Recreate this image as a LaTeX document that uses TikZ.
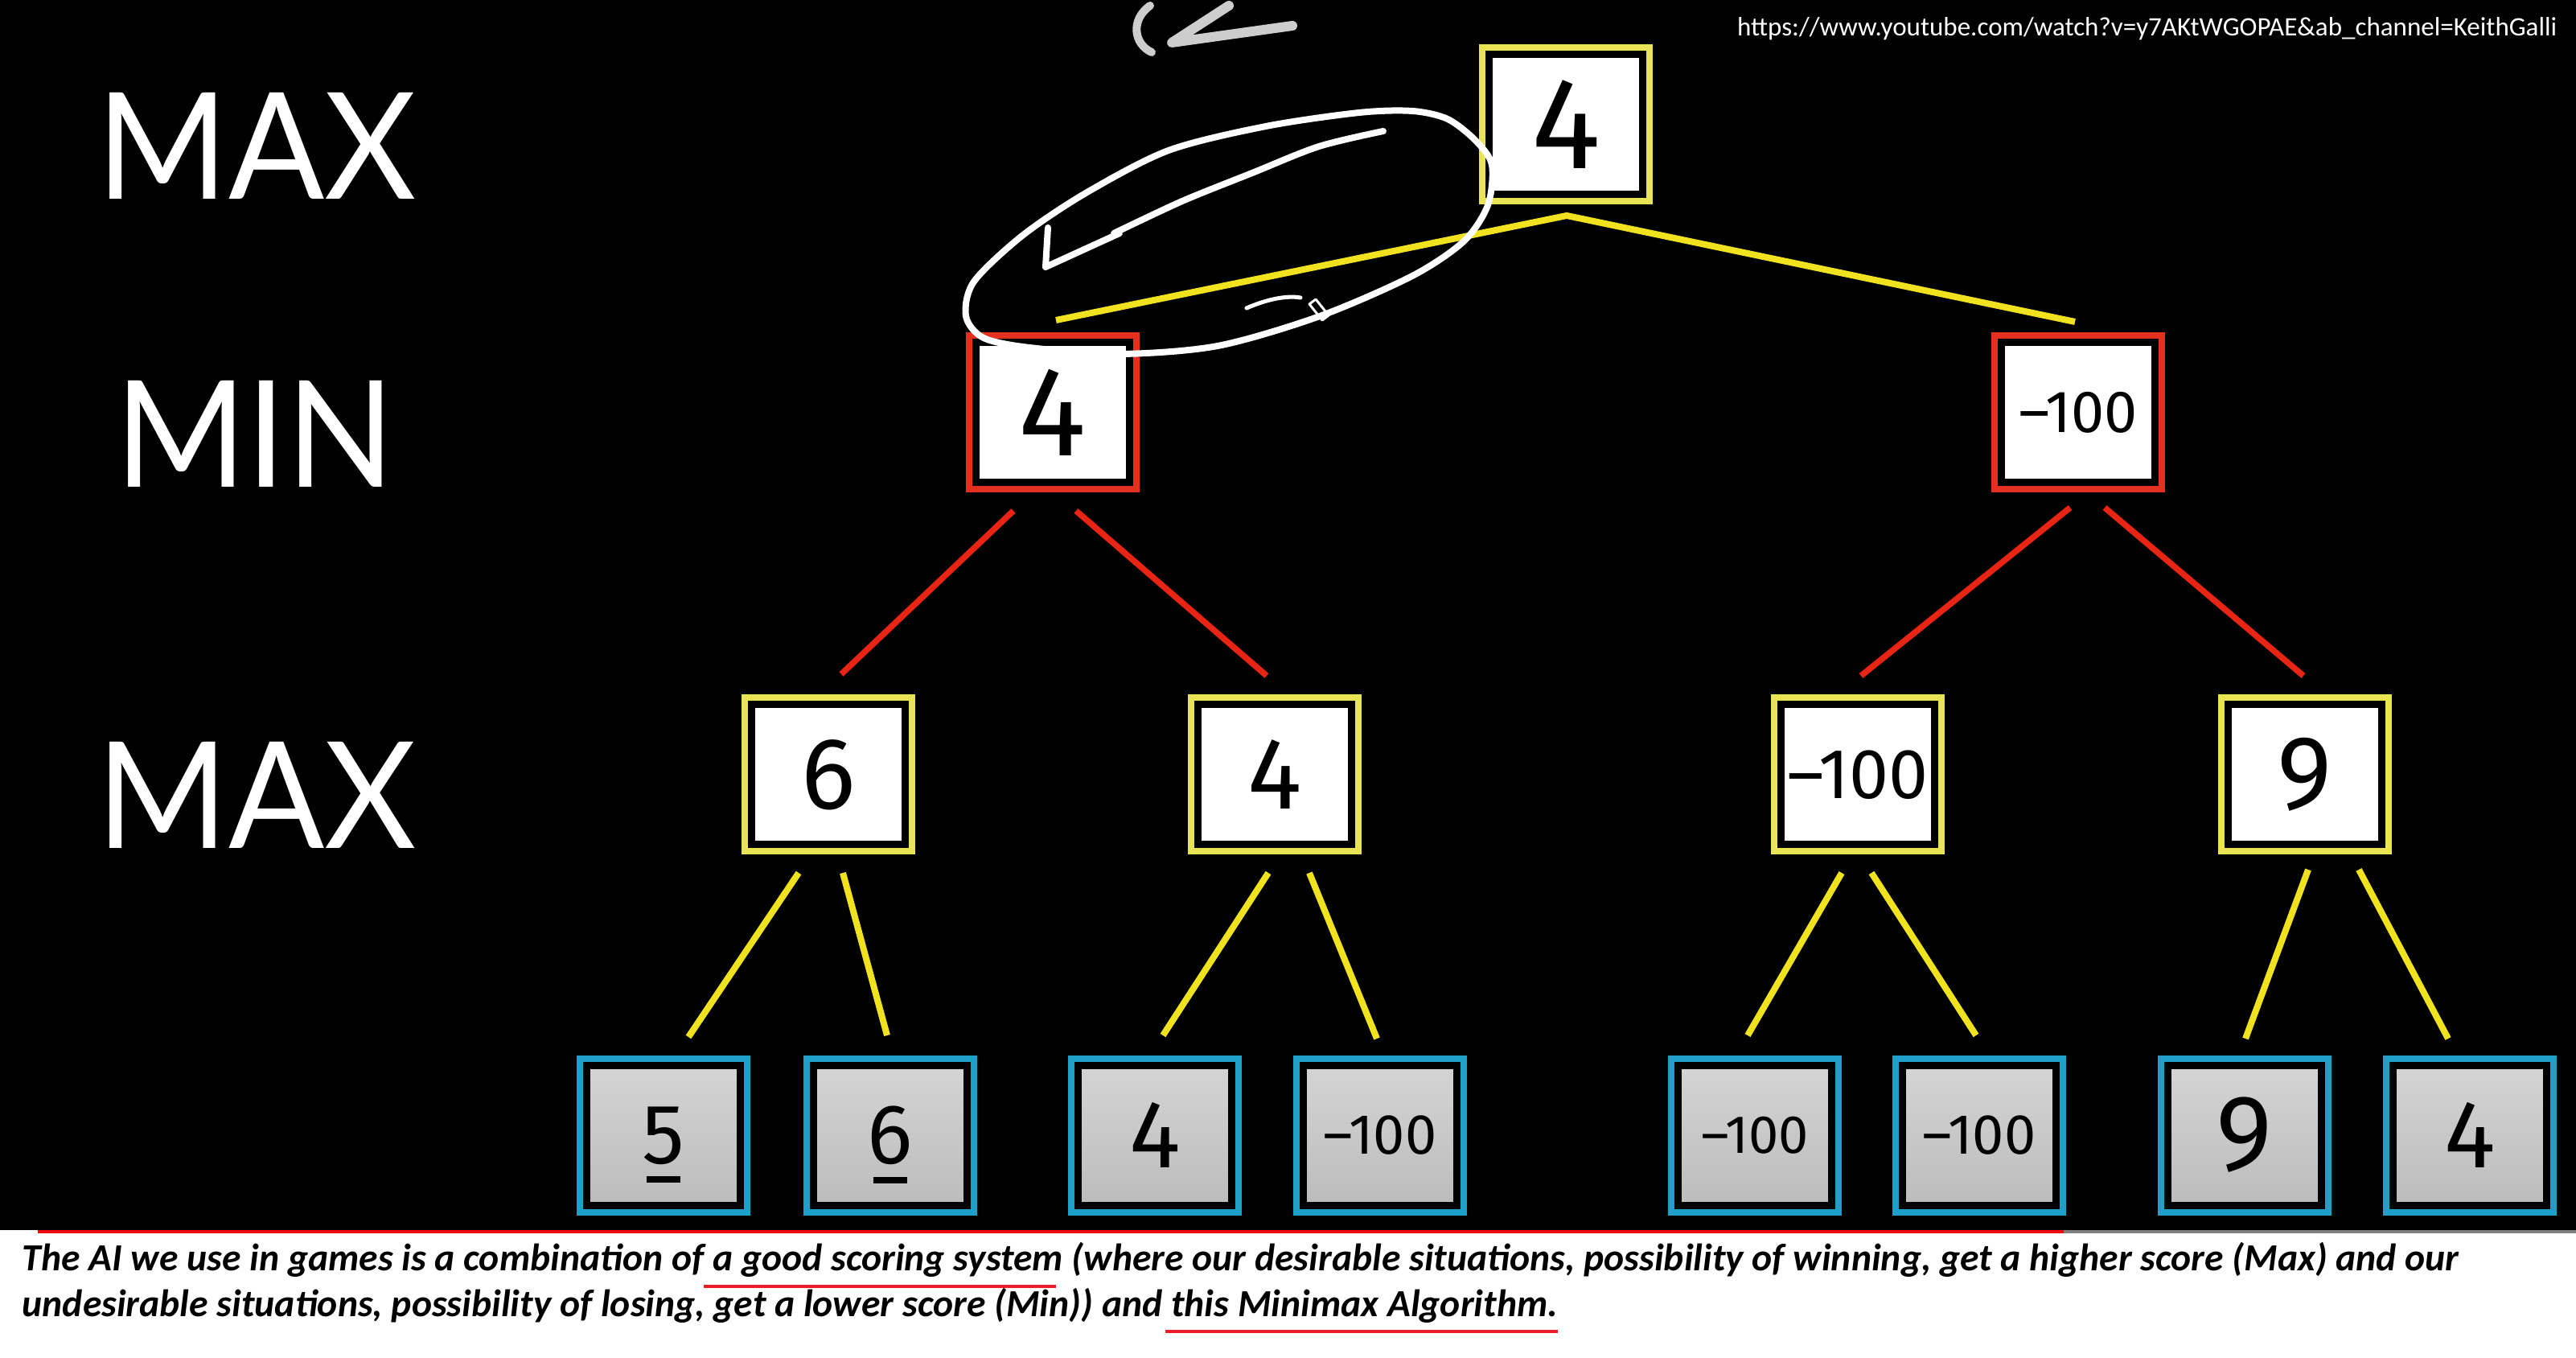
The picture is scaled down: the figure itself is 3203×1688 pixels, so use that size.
\documentclass[tikz,border=0pt]{standalone}
\usepackage{fontspec}
\setmainfont{Carlito}
\newfontfamily\labelfont{Lato}
\newfontfamily\numfont{Fira Sans}
\usepackage{xcolor}
\usetikzlibrary{positioning, calc}

\definecolor{frameyellow}{RGB}{232,228,84}
\definecolor{framered}{RGB}{228,48,30}
\definecolor{framecyan}{RGB}{30,160,200}
\definecolor{lineyellow}{RGB}{240,226,30}
\definecolor{linered}{RGB}{232,36,20}
\definecolor{leaftop}{RGB}{212,212,212}
\definecolor{leafbot}{RGB}{188,188,188}
\definecolor{inkgray}{RGB}{205,205,205}
\definecolor{progred}{RGB}{240,10,10}
\definecolor{proggray}{RGB}{128,128,128}
\definecolor{markred}{RGB}{237,28,36}

\newcommand{\digits}[1]{\fontsize{#1}{#1}\selectfont}
\newcommand{\barred}[1]{\ooalign{#1\cr\hidewidth\smash{\raisebox{-0.24cm}{\rule{0.42cm}{0.08cm}}}\hidewidth\cr}}
\newcommand{\narrow}[1]{\scalebox{0.955}[1]{#1}}

\begin{document}
\begin{tikzpicture}[
  x=0.1mm, y=-0.1mm,
  scorebox/.style={preaction={draw=#1, line width=2.5mm}, draw=black, line width=0.9mm, fill=white, minimum width=19.1mm, minimum height=17.4mm, inner sep=0pt, font=\numfont},
  maxnode/.style={scorebox=frameyellow},
  minnode/.style={scorebox=framered},
  leafnode/.style={scorebox=framecyan, top color=leaftop, bottom color=leafbot},
  level/.style={text=white, inner sep=0pt, font=\labelfont\digits{52.5pt}},
  capline/.style={anchor=base west, inner sep=0pt, font=\bfseries\itshape\fontsize{13.55pt}{15pt}\selectfont},
  yline/.style={draw=lineyellow, line width=0.8mm},
  rline/.style={draw=linered, line width=0.75mm},
  ink/.style={draw=white, line width=0.8mm, line cap=round, line join=round}
]
\useasboundingbox (0,0) rectangle (3203,1688);
\fill[black] (0,0) rectangle (3203,1529);
\fill[white] (0,1529) rectangle (3203,1688);

% Level labels
\node[level] (lmax1) at (319,181) {\narrow{MAX}};
\node[level] (lmin) at (317,539) {\narrow{MIN}};
\node[level] (lmax2) at (319,988) {\narrow{MAX}};

% Tree
\node[maxnode] (root) at (1947,155) {\digits{46pt}4};
\node[minnode] (mn1) at (1309,513) {\digits{45pt}4};
\node[minnode] (mn2) at (2584,513) {\digits{21pt}–100};
\node[maxnode] (mx1) at (1030,963) {\digits{36pt}6};
\node[maxnode] (mx2) at (1585,963) {\digits{36pt}4};
\node[maxnode] (mx3) at (2310,963) {\digits{25pt}–100};
\node[maxnode] (mx4) at (2866,963) {\digits{37pt}9};
\node[leafnode] (lf1) at (825,1411) {\digits{30pt}\barred{5}};
\node[leafnode] (lf2) at (1107,1411) {\digits{30pt}\barred{6}};
\node[leafnode] (lf3) at (1436,1411) {\digits{34pt}4};
\node[leafnode] (lf4) at (1716,1411) {\digits{20pt}–100};
\node[leafnode] (lf5) at (2182,1411) {\digits{19pt}–100};
\node[leafnode] (lf6) at (2461,1411) {\digits{20pt}–100};
\node[leafnode] (lf7) at (2791,1411) {\digits{38pt}9};
\node[leafnode] (lf8) at (3071,1411) {\digits{34pt}4};

% Root -> MIN
\draw[yline] ($(mn1.center)+(4,-115)$) -- ($(root.center)+(1,113)$) -- ($(mn2.center)+(-4,-113)$);

% MIN -> MAX
\draw[rline] ($(mn1.center)+(-49,122)$) -- ($(mx1.center)+(16,-125)$);
\draw[rline] ($(mn1.center)+(29,122)$) -- ($(mx2.center)+(-10,-123)$);
\draw[rline] ($(mn2.center)+(-10,118)$) -- ($(mx3.center)+(4,-123)$);
\draw[rline] ($(mn2.center)+(33,118)$) -- ($(mx4.center)+(-2,-123)$);

% MAX -> leaves
\draw[yline] ($(mx1.center)+(-37,122)$) -- ($(lf1.center)+(31,-122)$);
\draw[yline] ($(mx1.center)+(18,122)$) -- ($(lf2.center)+(-4,-124)$);
\draw[yline] ($(mx2.center)+(-8,122)$) -- ($(lf3.center)+(10,-124)$);
\draw[yline] ($(mx2.center)+(43,122)$) -- ($(lf4.center)+(-4,-120)$);
\draw[yline] ($(mx3.center)+(-20,122)$) -- ($(lf5.center)+(-9,-124)$);
\draw[yline] ($(mx3.center)+(17,122)$) -- ($(lf6.center)+(-4,-124)$);
\draw[yline] ($(mx4.center)+(4,118)$) -- ($(lf7.center)+(1,-120)$);
\draw[yline] ($(mx4.center)+(67,118)$) -- ($(lf8.center)+(-27,-120)$);

% Hand-drawn marks
\draw[ink] plot[smooth cycle] coordinates {(1201,393) (1211,350) (1271,293) (1350,240) (1453,187) (1574,157) (1690,140) (1756,138) (1800,148) (1835,175) (1855,205) (1850,255) (1820,300) (1756,343) (1641,393) (1514,430) (1392,440) (1280,432) (1223,420)};
\draw[ink] plot[smooth] coordinates {(1720,163) (1640,182) (1557,215) (1470,250) (1385,290)};
\draw[ink] (1303,283) -- (1300,332) -- (1392,290);
\draw[ink, line width=0.5mm] (1550,383) .. controls (1575,372) and (1600,367) .. (1617,370);
\draw[white, line width=0.3mm, line join=round] (1628,378) -- (1636,372) -- (1652,392) -- (1644,398) -- cycle;
\draw[ink, draw=inkgray, line width=1mm] (1430,7) .. controls (1405,25) and (1410,55) .. (1432,65);
\draw[ink, draw=inkgray, line width=1.2mm] (1528,7) -- (1457,53) -- (1607,32);

% Source link
\node[anchor=base east, text=white, inner sep=0pt, font=\fontsize{9.4pt}{10pt}\selectfont] (url) at (3180,45) {https://www.youtube.com/watch?v=y7AKtWGOPAE\&ab\_channel=KeithGalli};

% Progress bar
\draw[progred, line width=0.45mm] (47,1531) -- (2566,1531);
\draw[proggray, line width=0.45mm] (2566,1531) -- (3203,1531);

% Caption
\node[capline] (cap1) at (27,1579) {The AI we use in games is a combination of a good scoring system (where our desirable situations, possibility of winning, get a higher score (Max) and our};
\node[capline] (cap2) at (27,1636) {undesirable situations, possibility of losing, get a lower score (Min)) and this Minimax Algorithm.};
\draw[markred, line width=0.4mm] (875,1599) -- (1313,1599);
\draw[markred, line width=0.4mm] (1449,1655) -- (1937,1655);
\end{tikzpicture}
\end{document}
